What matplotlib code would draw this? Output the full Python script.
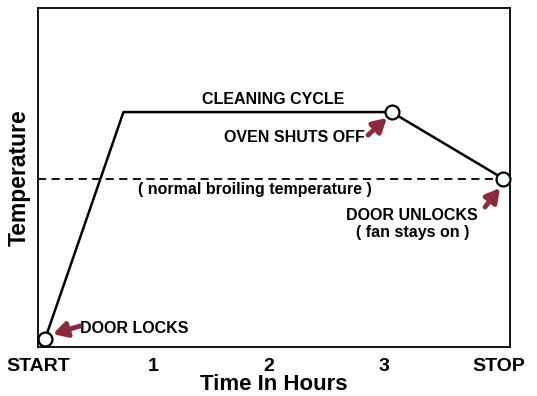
import matplotlib.pyplot as plt

plt.rcParams['font.family'] = ['Liberation Sans', 'DejaVu Sans']
plt.rcParams['font.weight'] = 'bold'

# oven self-clean cycle profile (time in hours, relative temperature)
cycle_t = [0.06, 0.74, 3.07, 4.04]
cycle_temp = [0.025, 0.693, 0.693, 0.497]
broil_temp = 0.497
tick_pos = [0, 1, 2, 3, 4]
tick_labels = ['START', '1', '2', '3', 'STOP']

arrow_col = '#8c2a3c'

fig = plt.figure(figsize=(5.37, 3.96), dpi=100)
ax = fig.add_axes([38/537, 49/396, 472/537, 339/396])
ax.set_xlim(-0.003, 4.10)
ax.set_ylim(0, 1)

ax.axhline(broil_temp, color='black', lw=1.3, ls=(0, (4.5, 3)), zorder=1)
ax.plot(cycle_t, cycle_temp, color='black', lw=1.8, zorder=2)
for i in [0, 2, 3]:
    ax.plot(cycle_t[i], cycle_temp[i], 'o', ms=10, mfc='white', mec='black',
            mew=1.6, zorder=3, clip_on=False)

for s in ax.spines.values():
    s.set_linewidth(1.3)
ax.set_yticks([])
ax.set_xticks(tick_pos)
ax.set_xticklabels(tick_labels, fontsize=14, fontweight='bold')
ax.tick_params(axis='x', length=0, pad=8)
ax.set_xlabel('Time In Hours', fontsize=16, fontweight='bold', labelpad=-1)
ax.set_ylabel('Temperature', fontsize=16.5, fontweight='bold', labelpad=5)

fs = 11.5
ax.text(2.04, 0.729, 'CLEANING CYCLE', ha='center', va='center', fontsize=fs)
ax.text(2.84, 0.619, 'OVEN SHUTS OFF', ha='right', va='center', fontsize=fs)
ax.text(1.88, 0.466, '( normal broiling temperature )', ha='center',
        va='center', fontsize=fs)
ax.text(3.25, 0.389, 'DOOR UNLOCKS', ha='center', va='center', fontsize=fs)
ax.text(3.25, 0.339, '( fan stays on )', ha='center', va='center', fontsize=fs)
ax.text(0.362, 0.056, 'DOOR LOCKS', ha='left', va='center', fontsize=fs)

arrow = dict(arrowstyle='-|>,head_length=0.8,head_width=0.45', color=arrow_col,
             lw=3.5, shrinkA=0, shrinkB=0)
ax.annotate('', xy=(0.127, 0.038), xytext=(0.362, 0.062), arrowprops=arrow)
ax.annotate('', xy=(3.03, 0.676), xytext=(2.866, 0.625), arrowprops=arrow)
ax.annotate('', xy=(4.013, 0.469), xytext=(3.883, 0.413), arrowprops=arrow)

fig.savefig('out.png', dpi=100)
